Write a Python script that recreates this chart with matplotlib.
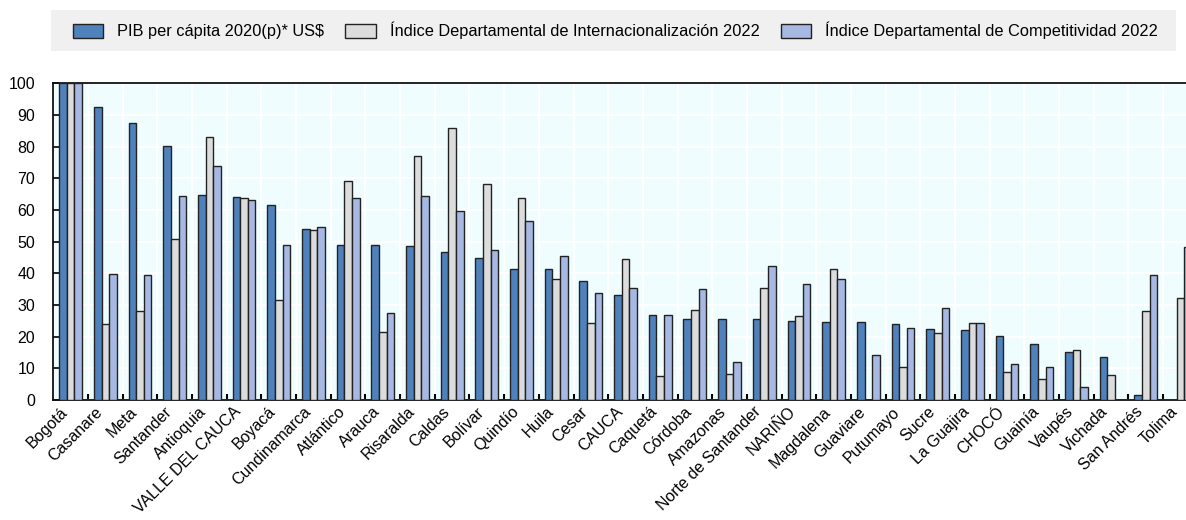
import numpy as np
import matplotlib
matplotlib.use("Agg")
import matplotlib.pyplot as plt
from matplotlib.patches import Rectangle

plt.rcParams['font.family'] = ['Liberation Sans', 'DejaVu Sans']

departamentos = ["Bogotá", "Casanare", "Meta", "Santander", "Antioquia", "VALLE DEL CAUCA",
                 "Boyacá", "Cundinamarca", "Atlántico", "Arauca", "Risaralda", "Caldas",
                 "Bolívar", "Quindío", "Huila", "Cesar", "CAUCA", "Caquetá", "Córdoba",
                 "Amazonas", "Norte de Santander", "NARIÑO", "Magdalena", "Guaviare",
                 "Putumayo", "Sucre", "La Guajira", "CHOCÓ", "Guainía", "Vaupés",
                 "Vichada", "San Andrés", "Tolima"]

pib = [100, 92.4, 87.6, 80.1, 64.6, 64.0, 61.7, 54.1, 49.1, 49.1, 48.7, 46.8,
       44.7, 41.5, 41.4, 37.5, 33.2, 26.7, 25.7, 25.5, 25.5, 25.1, 24.7, 24.6,
       24.1, 22.5, 22.2, 20.3, 17.6, 15.1, 13.7, 1.6, None]
internacionalizacion = [100, 23.9, 28.2, 50.9, 83.2, 63.8, 31.7, 53.7, 69.3, 21.5, 77.2, 85.9,
                        68.3, 63.9, 38.3, 24.3, 44.4, 7.7, 28.5, 8.3, 35.5, 26.5, 41.3, None,
                        10.4, 21.1, 24.2, 8.8, 6.6, 15.8, 7.9, 28.2, 32.3]
competitividad = [100, 39.9, 39.4, 64.3, 73.9, 63.3, 49.1, 54.5, 63.8, 27.6, 64.3, 59.6,
                  47.5, 56.5, 45.6, 33.7, 35.5, 26.9, 35.2, 12.1, 42.2, 36.5, 38.2, 14.3,
                  22.7, 29.1, 24.3, 11.3, 10.5, 4.0, None, 39.5, 48.4]

series_labels = ["PIB per cápita 2020(p)* US$",
                 "Índice Departamental de Internacionalización 2022",
                 "Índice Departamental de Competitividad 2022"]
colors = ["#4F81BD", "#DCDCDC", "#A7B8E3"]

def arr(v):
    return np.array([np.nan if x is None else x for x in v], dtype=float)

W, H = 1186, 520
fig = plt.figure(figsize=(W / 100, H / 100), dpi=100)
ax = fig.add_axes([53.3 / W, 1 - 400 / H, 1144.5 / W, (400 - 83.3) / H])
ax.set_facecolor("#EFFDFF")

x = np.arange(len(departamentos))
bw = 0.22
handles = []
for k, (vals, lab, col) in enumerate(zip([pib, internacionalizacion, competitividad], series_labels, colors)):
    b = ax.bar(x + (k - 1) * bw, arr(vals), width=bw, color=col, edgecolor="#222222",
               linewidth=1.0, label=lab, zorder=3)
    handles.append(b)

ax.set_xlim(-0.5, len(departamentos) - 0.5)
ax.set_ylim(0, 100)
ax.set_yticks(np.arange(0, 101, 10))
ax.set_xticks(x)
ax.set_xticklabels(departamentos, rotation=45, ha="right", fontsize=11.5)
ax.set_xticks(x[:-1] + 0.5, minor=True)
ax.tick_params(axis="x", which="major", length=0, pad=3)
ax.tick_params(axis="x", which="minor", direction="in", length=4, width=1.5, color="black")
ax.tick_params(axis="y", direction="in", length=5, width=1.2, labelsize=11.5, pad=13)

ax.grid(axis="y", color="white", linewidth=1.5, zorder=0)
ax.grid(axis="x", which="minor", color="white", linewidth=1.5, zorder=0)
ax.set_axisbelow(True)
for s in ["left", "bottom", "top"]:
    ax.spines[s].set_linewidth(1.3)
    ax.spines[s].set_color("#111111")
ax.spines["right"].set_visible(False)

# legend background
fig.patches.append(Rectangle((51 / W, 1 - 50.7 / H), (1176 - 51) / W, 40.7 / H,
                             transform=fig.transFigure, facecolor="#F0F0F0",
                             edgecolor="none", zorder=0))
fig.legend(handles=handles, labels=series_labels, ncol=3, frameon=False,
           loc="center left", bbox_to_anchor=(72.7 / W, 1 - 30.5 / H),
           fontsize=11.8, handlelength=1.85, handleheight=0.95, handletextpad=0.85,
           columnspacing=1.3, borderpad=0, borderaxespad=0)

fig.savefig("out.png", dpi=100)
